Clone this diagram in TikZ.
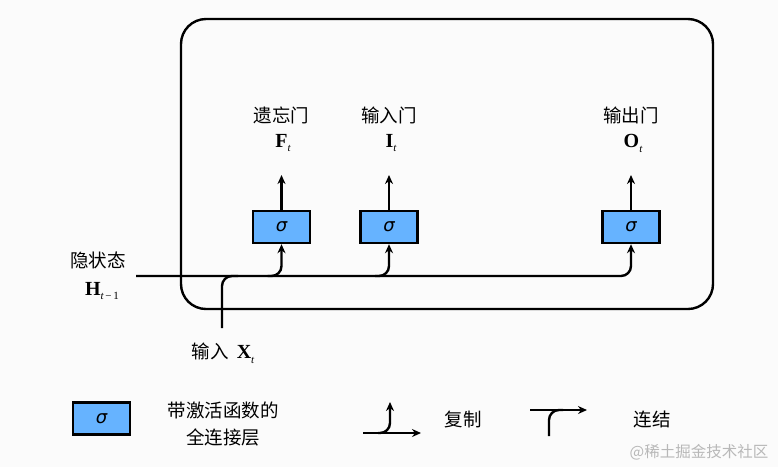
\documentclass[tikz,border=0pt]{standalone}
\usepackage{fontspec}
\setmainfont{Noto Sans CJK SC}
\newfontfamily\cjk{Noto Sans CJK SC}
\newfontfamily\tnr{Liberation Serif}
\newfontfamily\dvs{DejaVu Sans}
\usetikzlibrary{arrows.meta}
\newcommand\vsym[2]{{\tnr\bfseries #1}\raisebox{-0.45ex}{\tnr\itshape\fontsize{11}{11}\selectfont #2}}
\begin{document}
\begin{tikzpicture}[x=1pt,y=-1pt,
  line/.style={line width=2.4pt},
  arr/.style={line width=2.4pt,-{Stealth[length=9pt,width=8pt]}},
  gate/.style={draw,line width=2.4pt,fill=boxblue,minimum width=57pt,minimum height=32pt,inner sep=0pt,font=\dvs\itshape\fontsize{18}{18}\selectfont},
  cjklabel/.style={font=\cjk\fontsize{18.5}{20}\selectfont,inner sep=0pt},
  symlabel/.style={font=\fontsize{20}{22}\selectfont,inner sep=0pt}]
\definecolor{boxblue}{HTML}{66B3FF}
\definecolor{bg}{HTML}{FBFBFB}
\fill[bg] (0,0) rectangle (778,467);
\useasboundingbox (0,0) rectangle (778,467);
% frame
\node[draw,line width=2.4pt,rounded corners=25pt,minimum width=532pt,minimum height=290pt,inner sep=0pt] (frame) at (447,164) {};
% gates
\node[gate] (F) at (281.5,227) {σ};
\node[gate] (I) at (389,227) {σ};
\node[gate] (O) at (631,227) {σ};
% outputs
\coordinate (Fo) at (281.5,175);
\coordinate (Io) at (389,175);
\coordinate (Oo) at (631,175);
\draw[arr] (F.north) -- (Fo);
\draw[arr] (I.north) -- (Io);
\draw[arr] (O.north) -- (Oo);
\node[cjklabel] (Fn) at (281.5,115) {遗忘门};
\node[symlabel] (Fs) at (283,143) {\vsym{F}{t}};
\node[cjklabel] (In) at (389,115) {输入门};
\node[symlabel] (Is) at (391,143) {\vsym{I}{t}};
\node[cjklabel] (On) at (631,115) {输出门};
\node[symlabel] (Os) at (633,143) {\vsym{O}{t}};
% hidden state
\node[cjklabel] (Hn) at (98,260) {隐状态};
\node[symlabel] (Hs) at (102,291) {\vsym{H}{t\,\upshape−\,1}};
\coordinate (hs) at (136,276);
\draw[arr,rounded corners=10pt] (hs) -- (O.south |- hs) -- (O.south);
\draw[arr,rounded corners=10pt] ([xshift=-14pt]F.south |- hs) -- (F.south |- hs) -- (F.south);
\draw[arr,rounded corners=10pt] ([xshift=-14pt]I.south |- hs) -- (I.south |- hs) -- (I.south);
% input
\coordinate (xin) at (222,328);
\draw[line,rounded corners=10pt] (xin) -- (xin |- hs) -- ([xshift=16pt]xin |- hs);
\node[inner sep=0pt] (Xn) at (223,353) {{\cjk\fontsize{18.5}{20}\selectfont 输入}\hspace{8pt}{\fontsize{20}{22}\selectfont\vsym{X}{t}}};
% legend
\node[gate] (L) at (101.5,418.5) {σ};
\node[cjklabel,align=center,font=\cjk\fontsize{18.5}{27}\selectfont] (Lt) at (223,424) {带激活函数的\\全连接层};
\coordinate (c1) at (363,433);
\coordinate (c2) at (421,433);
\coordinate (c3) at (390,402);
\draw[arr] (c1) -- (c2);
\draw[arr,rounded corners=10pt] ([xshift=-12pt]c3 |- c1) -- (c3 |- c1) -- (c3);
\node[cjklabel] (Ct) at (463,419) {复制};
\coordinate (k1) at (530,410);
\coordinate (k2) at (587,410);
\coordinate (k3) at (549,436);
\draw[arr] (k1) -- (k2);
\draw[line,rounded corners=10pt] (k3) -- (k3 |- k1) -- ([xshift=14pt]k3 |- k1);
\node[cjklabel] (Kt) at (652,419) {连结};
\node[font=\cjk\fontsize{15.5}{15.5}\selectfont,text=black!28,inner sep=0pt] (wm) at (699,452) {@稀土掘金技术社区};
\end{tikzpicture}
\end{document}
